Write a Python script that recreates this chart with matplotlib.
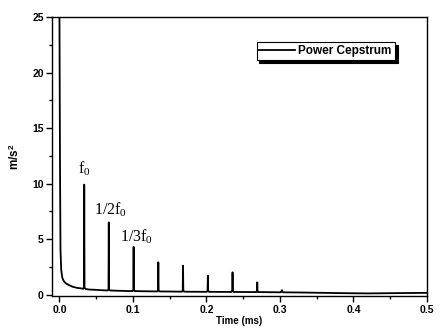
import numpy as np
import matplotlib.pyplot as plt
from matplotlib.ticker import MultipleLocator

# baseline of the cepstrum (quefrency in ms, amplitude in m/s^2)
base_t = [0.0, 0.0008, 0.0015, 0.0025, 0.004, 0.006, 0.009, 0.013, 0.018, 0.024,
          0.030, 0.040, 0.050, 0.060, 0.075, 0.090, 0.110, 0.130, 0.150, 0.180,
          0.210, 0.240, 0.270, 0.300, 0.330, 0.360, 0.390, 0.420, 0.450, 0.480, 0.500]
base_v = [27.0, 12.0, 4.0, 2.2, 1.5, 1.2, 1.0, 0.85, 0.7, 0.6,
          0.55, 0.45, 0.42, 0.38, 0.35, 0.32, 0.30, 0.28, 0.27, 0.25,
          0.24, 0.23, 0.22, 0.20, 0.18, 0.15, 0.12, 0.10, 0.12, 0.14, 0.15]

# rahmonic peaks
peak_t = [0.0338, 0.0672, 0.1010, 0.1346, 0.1682, 0.2020, 0.2356, 0.2692, 0.3028]
peak_v = [9.9, 6.5, 4.3, 2.9, 2.6, 1.7, 2.0, 1.1, 0.4]

bt = np.array(base_t)
bv = np.array(base_v)
t = list(bt)
v = list(bv)
for pt, pv in zip(peak_t, peak_v):
    b = np.interp(pt, bt, bv)
    t += [pt - 0.0015, pt - 0.0004, pt, pt + 0.0004, pt + 0.0015]
    v += [b, b + 0.12, pv, b + 0.12, b]
order = np.argsort(t, kind='stable')
t = np.array(t)[order]
v = np.array(v)[order]

plt.rcParams['font.family'] = ['Liberation Sans', 'DejaVu Sans']
plt.rcParams['mathtext.fontset'] = 'custom'
plt.rcParams['mathtext.rm'] = 'Liberation Serif'
plt.rcParams['mathtext.it'] = 'Liberation Serif:italic'
plt.rcParams['mathtext.bf'] = 'Liberation Sans:bold'

fig = plt.figure(figsize=(4.41, 3.28), dpi=100)
ax = fig.add_axes([0.118, 0.097, 0.850, 0.851])
ax.plot(t, v, color='black', lw=1.3, label='Power Cepstrum')

ax.set_xlim(-0.01, 0.5)
ax.set_ylim(-0.15, 25)
ax.xaxis.set_major_locator(MultipleLocator(0.1))
ax.xaxis.set_minor_locator(MultipleLocator(0.05))
ax.yaxis.set_major_locator(MultipleLocator(5))
ax.yaxis.set_minor_locator(MultipleLocator(2.5))
ax.tick_params(which='major', direction='out', length=4, width=1, labelsize=7.5, pad=2)
ax.tick_params(which='minor', direction='out', length=2, width=1)
for lab in ax.get_xticklabels() + ax.get_yticklabels():
    lab.set_fontweight('bold')
for s in ax.spines.values():
    s.set_linewidth(1.0)

ax.set_xlabel('Time (ms)', fontsize=7, fontweight='bold', labelpad=1)
ax.set_ylabel('m/s$^\\mathbf{2}$', fontsize=8.5, fontweight='bold', labelpad=7)

serif = ['Liberation Serif', 'DejaVu Serif']
ax.text(0.0345, 10.5, 'f$_\\mathrm{0}$', family=serif, fontsize=11.5, ha='center', va='bottom')
ax.text(0.0465, 6.8, '1/2f$_\\mathrm{0}$', family=serif, fontsize=11.5, ha='left', va='bottom')
ax.text(0.083, 4.4, '1/3f$_\\mathrm{0}$', family=serif, fontsize=11.5, ha='left', va='bottom')

leg = ax.legend(loc='upper right', bbox_to_anchor=(0.93, 0.93), frameon=True,
                fancybox=False, shadow={'color': 'black', 'alpha': 1},
                prop={'weight': 'bold', 'size': 8.5}, handlelength=3.0,
                handletextpad=0.3, borderpad=0.25)
leg.get_frame().set_edgecolor('black')
leg.get_frame().set_linewidth(0.8)

fig.savefig('out.png', dpi=100)
